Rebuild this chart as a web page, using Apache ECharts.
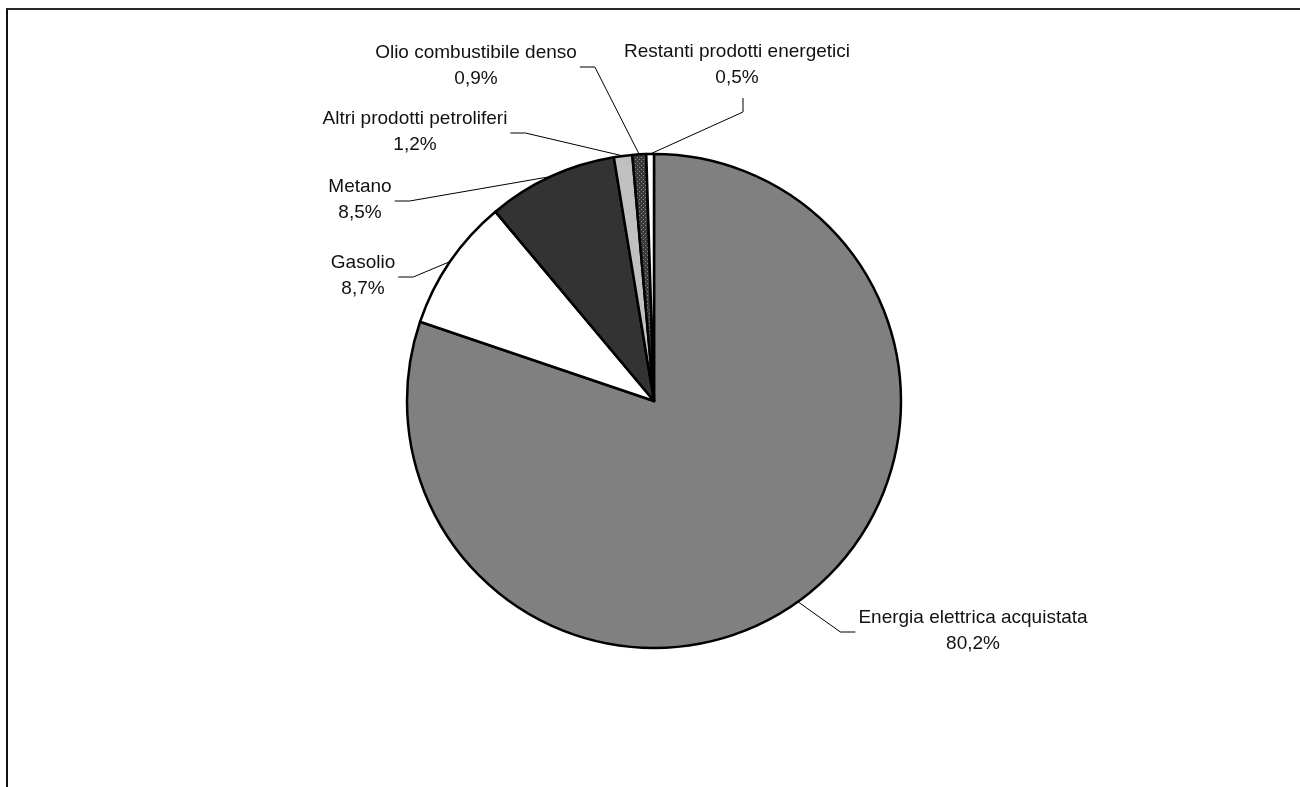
<!DOCTYPE html>
<html>
<head>
<meta charset="utf-8">
<script src="https://cdn.jsdelivr.net/npm/echarts@6/dist/echarts.min.js"></script>
<style>
  html, body { margin: 0; padding: 0; background: #fff; }
  #chart { width: 1300px; height: 787px; }
  .frame {
    position: absolute;
    left: 6px;
    top: 8px;
    width: 1294px;
    height: 779px;
    border-top: 2px solid #2a2a2a;
    border-left: 2px solid #111;
    pointer-events: none;
  }
</style>
</head>
<body>
<div id="chart"></div>
<div class="frame"></div>
<script>
// Data (percent shares)
const categories = [
  'Energia elettrica acquistata',
  'Gasolio',
  'Metano',
  'Altri prodotti petroliferi',
  'Olio combustibile denso',
  'Restanti prodotti energetici'
]
const shares = [80.2, 8.7, 8.5, 1.2, 0.9, 0.5]

// Where the labels sit and which side the leader line attaches to
const labelCenters = [[973, 631], [363, 276], [360, 200], [415, 132], [476, 66], [737, 65]]
const labelSides = ['left', 'right', 'right', 'right', 'right', 'bottom']

// dotted fill for the "Olio" slice
const makeDots = () => {
  const c = document.createElement('canvas')
  c.width = 4
  c.height = 4
  const ctx = c.getContext('2d')
  ctx.fillStyle = '#3a3a3a'
  ctx.fillRect(0, 0, 4, 4)
  ctx.fillStyle = '#8a8a8a'
  ctx.fillRect(1, 1, 1, 1)
  ctx.fillRect(3, 3, 1, 1)
  return c
}

const fills = ['#808080', '#ffffff', '#333333', '#c0c0c0', { image: makeDots(), repeat: 'repeat' }, '#ffffff']

const fmt = v => v.toFixed(1).replace('.', ',') + '%'

const chart = echarts.init(document.getElementById('chart'))

chart.setOption({
  backgroundColor: '#ffffff',
  animation: false,
  series: [
    {
      type: 'pie',
      center: [654, 401],
      radius: 247,
      startAngle: 90,
      clockwise: true,
      avoidLabelOverlap: false,
      data: categories.map((name, i) => ({
        name,
        value: shares[i],
        itemStyle: { color: fills[i] }
      })),
      itemStyle: {
        borderColor: '#000',
        borderWidth: 2.5
      },
      label: {
        show: true,
        position: 'outside',
        fontFamily: 'Liberation Sans, Arial, sans-serif',
        fontSize: 19,
        lineHeight: 26,
        color: '#111',
        align: 'center',
        formatter: p => p.name + '\n' + fmt(p.value)
      },
      labelLine: {
        show: true,
        length: 20,
        length2: 15,
        lineStyle: { color: '#000', width: 1 }
      },
      labelLayout: params => {
        const i = params.dataIndex
        const [cx, cy] = labelCenters[i]
        const w = params.labelRect.width
        const h = params.labelRect.height
        const start = params.labelLinePoints ? params.labelLinePoints[0] : [cx, cy]
        let end, elbow
        if (labelSides[i] === 'left') {
          end = [cx - w / 2 - 3, cy + 1]
          elbow = [end[0] - 15, end[1]]
        } else if (labelSides[i] === 'right') {
          end = [cx + w / 2 + 3, cy + 1]
          elbow = [end[0] + 15, end[1]]
        } else {
          end = [cx + 6, cy + h / 2 + 7]
          elbow = [end[0], end[1] + 14]
        }
        return {
          x: cx,
          y: cy,
          align: 'center',
          verticalAlign: 'middle',
          labelLinePoints: [start, elbow, end]
        }
      }
    }
  ]
})
</script>
</body>
</html>
